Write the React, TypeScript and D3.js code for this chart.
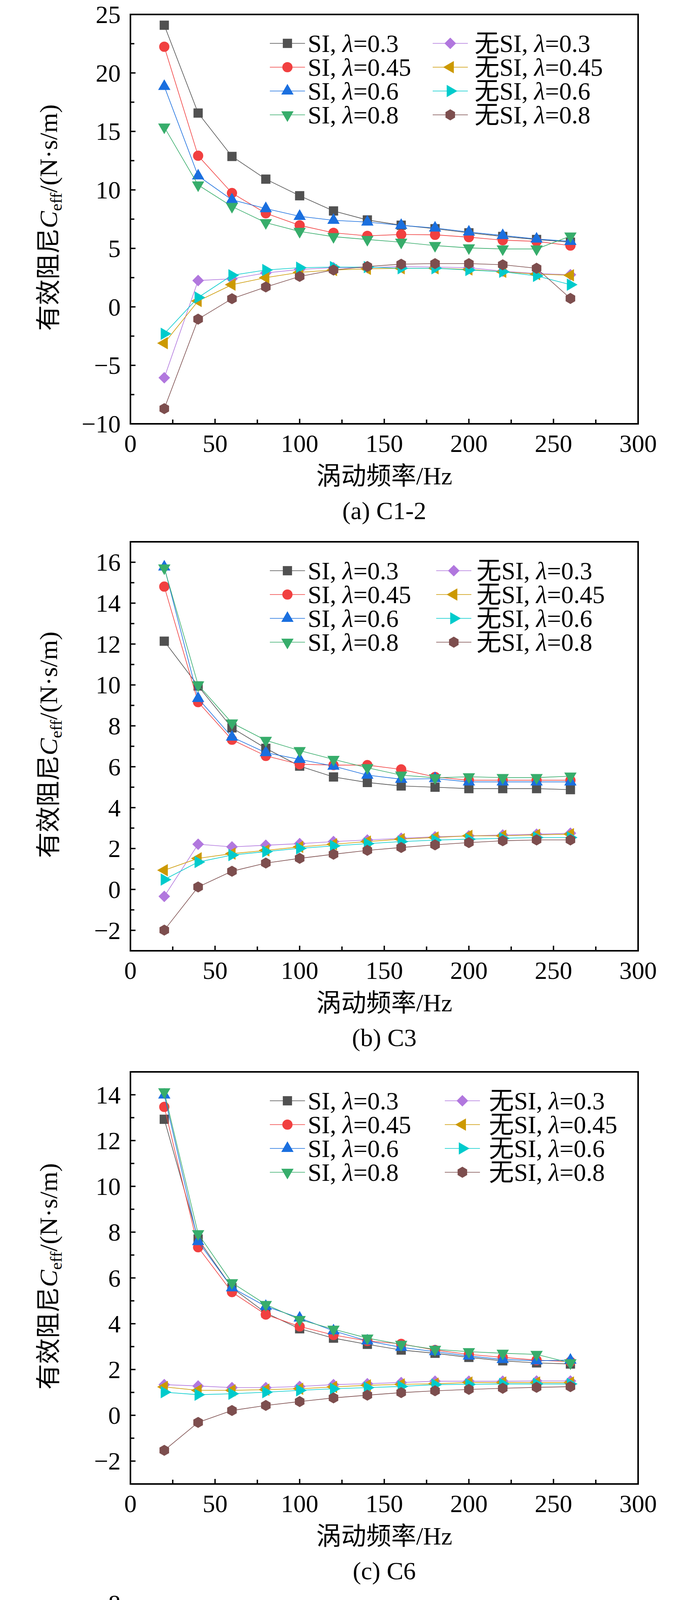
import * as d3 from 'd3'
import { useEffect, useRef } from 'react'

const W = 1772
const H = 5422
const LEFT = 334
const RIGHT = 1634
const FONT = "'Liberation Serif', 'Times New Roman', 'Noto Sans CJK SC', serif"
const FS = 64

const FREQ = [20, 40, 60, 80, 100, 120, 140, 160, 180, 200, 220, 240, 260]
const X_MAJOR = [0, 50, 100, 150, 200, 250, 300]
const X_MINOR = [25, 75, 125, 175, 225, 275]

const PREFIX = ['SI', 'SI', 'SI', 'SI', '无SI', '无SI', '无SI', '无SI']
const LAMBDA = ['0.3', '0.45', '0.6', '0.8', '0.3', '0.45', '0.6', '0.8']
const COLORS = ['#515151', '#F14040', '#1A6FDF', '#37AD6B', '#B177DE', '#CC9900', '#00CBCC', '#7D4E4E']

// (a) C1-2
const A_SI_03 = [24.08, 16.57, 12.86, 10.92, 9.5, 8.2, 7.43, 6.98, 6.68, 6.33, 6.02, 5.76, 5.53]
const A_SI_045 = [22.24, 12.92, 9.73, 8.0, 6.97, 6.33, 6.07, 6.19, 6.16, 5.96, 5.7, 5.6, 5.24]
const A_SI_06 = [18.85, 11.2, 9.15, 8.4, 7.74, 7.4, 7.25, 6.97, 6.74, 6.4, 6.1, 5.8, 5.6]
const A_SI_08 = [15.37, 10.42, 8.58, 7.2, 6.45, 6.0, 5.76, 5.53, 5.24, 5.04, 4.95, 4.95, 6.05]
const A_NO_03 = [-6.06, 2.25, 2.4, 2.9, 3.2, 3.35, 3.35, 3.45, 3.4, 3.35, 3.05, 2.85, 2.75]
const A_NO_045 = [-3.1, 0.5, 1.9, 2.5, 2.95, 3.15, 3.25, 3.3, 3.3, 3.2, 3.0, 2.8, 2.7]
const A_NO_06 = [-2.3, 0.8, 2.7, 3.15, 3.35, 3.4, 3.4, 3.3, 3.3, 3.15, 3.0, 2.65, 1.9]
const A_NO_08 = [-8.7, -1.05, 0.7, 1.7, 2.6, 3.15, 3.45, 3.65, 3.7, 3.7, 3.6, 3.3, 0.72]

// (b) C3
const B_SI_03 = [12.14, 9.95, 7.9, 6.9, 6.03, 5.5, 5.23, 5.06, 5.0, 4.93, 4.93, 4.93, 4.88]
const B_SI_045 = [14.81, 9.16, 7.32, 6.53, 6.12, 6.08, 6.08, 5.87, 5.5, 5.34, 5.34, 5.34, 5.34]
const B_SI_06 = [15.77, 9.34, 7.45, 6.69, 6.36, 6.03, 5.59, 5.39, 5.42, 5.26, 5.26, 5.26, 5.26]
const B_SI_08 = [15.72, 10.0, 8.14, 7.29, 6.79, 6.36, 5.95, 5.59, 5.46, 5.51, 5.47, 5.47, 5.54]
const B_NO_03 = [-0.34, 2.21, 2.08, 2.16, 2.24, 2.34, 2.42, 2.5, 2.57, 2.62, 2.66, 2.7, 2.75]
const B_NO_045 = [0.94, 1.52, 1.75, 1.91, 2.08, 2.21, 2.34, 2.46, 2.54, 2.62, 2.62, 2.67, 2.7]
const B_NO_06 = [0.48, 1.34, 1.68, 1.85, 2.01, 2.13, 2.24, 2.34, 2.41, 2.46, 2.5, 2.54, 2.54]
const B_NO_08 = [-1.99, 0.12, 0.89, 1.29, 1.52, 1.72, 1.91, 2.05, 2.18, 2.29, 2.38, 2.42, 2.42]

// (c) C6
const C_SI_03 = [12.93, 7.7, 5.57, 4.47, 3.78, 3.37, 3.1, 2.85, 2.71, 2.53, 2.38, 2.29, 2.24]
const C_SI_045 = [13.47, 7.34, 5.38, 4.4, 3.88, 3.51, 3.25, 3.12, 2.85, 2.66, 2.53, 2.41, 2.34]
const C_SI_06 = [13.99, 7.59, 5.57, 4.76, 4.25, 3.69, 3.25, 2.97, 2.78, 2.59, 2.44, 2.38, 2.41]
const C_SI_08 = [14.13, 7.93, 5.79, 4.84, 4.18, 3.76, 3.37, 3.1, 2.88, 2.78, 2.71, 2.66, 2.29]
const C_NO_03 = [1.34, 1.28, 1.21, 1.21, 1.26, 1.34, 1.38, 1.43, 1.49, 1.49, 1.49, 1.5, 1.5]
const C_NO_045 = [1.24, 1.09, 1.09, 1.12, 1.16, 1.24, 1.31, 1.35, 1.38, 1.43, 1.43, 1.43, 1.43]
const C_NO_06 = [1.01, 0.9, 0.94, 1.01, 1.09, 1.16, 1.21, 1.26, 1.34, 1.35, 1.37, 1.37, 1.37]
const C_NO_08 = [-1.53, -0.31, 0.21, 0.43, 0.6, 0.76, 0.88, 0.99, 1.07, 1.13, 1.18, 1.22, 1.25]

// (d) C9
const D_SI_03 = [6.0, 2.81, 1.8, 1.15, 0.77, 0.55, 0.46, 0.39, 0.35, 0.38, 0.43, 0.44, 0.46]
const D_SI_045 = [6.82, 3.05, 1.86, 1.27, 0.87, 0.77, 0.68, 0.53, 0.53, 0.39, 0.48, 0.82, 0.82]
const D_SI_06 = [7.08, 2.85, 2.01, 1.41, 1.06, 0.7, 0.57, 0.43, 0.5, 0.41, 0.43, 0.67, 0.8]
const D_SI_08 = [7.29, 2.98, 2.07, 1.34, 1.04, 0.78, 0.62, 0.56, 0.45, 0.56, 0.52, 0.74, 0.81]
const D_NO_03 = [0.79, 0.33, 0.05, -0.16, -0.22, -0.22, -0.18, -0.13, -0.09, 0.0, 0.14, 0.31, 0.55]
const D_NO_045 = [0.18, 0.07, -0.13, -0.12, -0.26, -0.22, -0.24, -0.24, -0.18, -0.2, 0.08, 0.56, 0.12]
const D_NO_06 = [-0.02, 0.14, -0.16, -0.28, -0.26, -0.35, -0.24, -0.27, -0.22, -0.18, -0.06, 0.4, -0.17]
const D_NO_08 = [-1.21, -0.54, -0.54, -0.62, -0.55, -0.56, -0.44, -0.47, -0.33, -0.33, -0.19, 0.12, 0.41]

const PANELS = [
  {
    caption: '(a) C1-2', top: 37, bottom: 1085, domain: [-10, 25], major: 5, minor: 2.5,
    col2: 1153, col2Text: 1215,
    series: [A_SI_03, A_SI_045, A_SI_06, A_SI_08, A_NO_03, A_NO_045, A_NO_06, A_NO_08],
  },
  {
    caption: '(b) C3', top: 1387, bottom: 2434, domain: [-3, 17], major: 2, minor: 1,
    col2: 1162, col2Text: 1220,
    series: [B_SI_03, B_SI_045, B_SI_06, B_SI_08, B_NO_03, B_NO_045, B_NO_06, B_NO_08],
  },
  {
    caption: '(c) C6', top: 2744, bottom: 3799, domain: [-3, 15], major: 2, minor: 1,
    col2: 1184, col2Text: 1252,
    series: [C_SI_03, C_SI_045, C_SI_06, C_SI_08, C_NO_03, C_NO_045, C_NO_06, C_NO_08],
  },
  {
    caption: '(d) C9', top: 4105, bottom: 5143, domain: [-2, 8], major: 1, minor: 0.5,
    col2: 1184, col2Text: 1245,
    series: [D_SI_03, D_SI_045, D_SI_06, D_SI_08, D_NO_03, D_NO_045, D_NO_06, D_NO_08],
  },
]

/* pointy-top hexagon, like Origin's */
const hexagon = {
  draw(ctx: any, size: number) {
    const r = Math.sqrt(size / ((3 * Math.sqrt(3)) / 2))
    for (let i = 0; i < 6; i++) {
      const a = (Math.PI / 3) * i - Math.PI / 2
      if (i === 0) ctx.moveTo(r * Math.cos(a), r * Math.sin(a))
      else ctx.lineTo(r * Math.cos(a), r * Math.sin(a))
    }
    ctx.closePath()
  },
}

// shape, area, rotation for each series
const MARKERS: [any, number, number][] = [
  [d3.symbolSquare, 560, 0],
  [d3.symbolCircle, 540, 0],
  [d3.symbolTriangle, 430, 0],
  [d3.symbolTriangle, 430, 180],
  [d3.symbolSquare, 440, 45],
  [d3.symbolTriangle, 430, -90],
  [d3.symbolTriangle, 430, 90],
  [hexagon, 520, 0],
]

type Piece = { text: string; italic?: boolean; size?: number; dy?: number; gap?: number }

/* lay pieces of text side by side, each its own <text>, measured in the DOM */
function textRow(parent: any, pieces: Piece[], x0: number, y0: number) {
  let cx = x0
  pieces.forEach((pc) => {
    cx += pc.gap ?? 0
    const t = parent.append('text').attr('x', cx).attr('y', y0 + (pc.dy ?? 0)).text(pc.text)
    if (pc.italic) t.attr('font-style', 'italic')
    if (pc.size) t.attr('font-size', pc.size)
    cx += (t.node() as SVGTextElement).getComputedTextLength()
  })
  return cx - x0
}

function drawPanel(svg: any, p: (typeof PANELS)[number]) {
  const x = d3.scaleLinear().domain([0, 300]).range([LEFT, RIGHT])
  const y = d3.scaleLinear().domain(p.domain).range([p.bottom, p.top])
  const g = svg.append('g').attr('font-family', FONT).attr('font-size', FS)

  /* data */
  const line = d3
    .line<number>()
    .x((_, i) => x(FREQ[i]))
    .y((d) => y(d))
  p.series.forEach((vals, k) => {
    const [type, size, rot] = MARKERS[k]
    g.append('path')
      .attr('d', line(vals))
      .attr('fill', 'none')
      .attr('stroke', COLORS[k])
      .attr('stroke-width', 1.6)
    g.append('g')
      .selectAll('path')
      .data(vals)
      .join('path')
      .attr('transform', (d: number, i: number) => `translate(${x(FREQ[i])},${y(d)}) rotate(${rot})`)
      .attr('d', d3.symbol().type(type).size(size)())
      .attr('fill', COLORS[k])
  })

  /* legend */
  PREFIX.forEach((pre, k) => {
    const col = k < 4 ? 0 : 1
    const row = k % 4
    const cy = p.top + 74 + row * 61
    const mx = col === 0 ? 736 : p.col2
    const tx = col === 0 ? 788 : p.col2Text
    const [type, size, rot] = MARKERS[k]
    g.append('line')
      .attr('x1', mx - 45).attr('x2', mx + 45)
      .attr('y1', cy).attr('y2', cy)
      .attr('stroke', COLORS[k]).attr('stroke-width', 1.6)
    g.append('path')
      .attr('transform', `translate(${mx},${cy}) rotate(${rot})`)
      .attr('d', d3.symbol().type(type).size(size)())
      .attr('fill', COLORS[k])
    textRow(g, [
      { text: `${pre},` },
      { text: 'λ', italic: true, gap: 16 },
      { text: `=${LAMBDA[k]}` },
    ], tx, cy + 22)
  })

  /* y axis ticks */
  const [lo, hi] = p.domain
  const yMajor = d3.range(Math.ceil(lo / p.major) * p.major, hi + 1e-9, p.major)
  const yMinor = d3
    .range(Math.ceil(lo / p.minor) * p.minor, hi + 1e-9, p.minor)
    .filter((v) => !yMajor.some((m) => Math.abs(m - v) < 1e-9))
  const fmt = d3.format('d')
  g.append('g')
    .selectAll('line')
    .data([...yMajor.map((v) => [v, 13]), ...yMinor.map((v) => [v, 10])])
    .join('line')
    .attr('x1', LEFT).attr('x2', (d: number[]) => LEFT + d[1])
    .attr('y1', (d: number[]) => y(d[0])).attr('y2', (d: number[]) => y(d[0]))
    .attr('stroke', '#000').attr('stroke-width', 3.5)
  g.append('g')
    .attr('text-anchor', 'end')
    .selectAll('text')
    .data(yMajor)
    .join('text')
    .attr('x', 309)
    .attr('y', (d: number) => y(d) + 22)
    .text((d: number) => fmt(d))

  /* x axis ticks */
  g.append('g')
    .selectAll('line')
    .data([...X_MAJOR.map((v) => [v, 13]), ...X_MINOR.map((v) => [v, 11])])
    .join('line')
    .attr('x1', (d: number[]) => x(d[0])).attr('x2', (d: number[]) => x(d[0]))
    .attr('y1', p.bottom).attr('y2', (d: number[]) => p.bottom - d[1])
    .attr('stroke', '#000').attr('stroke-width', 3.5)
  g.append('g')
    .attr('text-anchor', 'middle')
    .selectAll('text')
    .data(X_MAJOR)
    .join('text')
    .attr('x', (d: number) => x(d))
    .attr('y', p.bottom + 72)
    .text((d: number) => fmt(d))

  /* frame */
  g.append('rect')
    .attr('x', LEFT).attr('y', p.top)
    .attr('width', RIGHT - LEFT).attr('height', p.bottom - p.top)
    .attr('fill', 'none').attr('stroke', '#000').attr('stroke-width', 4)

  /* axis titles and caption */
  const cx = (LEFT + RIGHT) / 2
  g.append('text').attr('x', cx).attr('y', p.bottom + 155).attr('text-anchor', 'middle').text('涡动频率/Hz')
  g.append('text').attr('x', cx).attr('y', p.bottom + 244).attr('text-anchor', 'middle').text(p.caption)

  const yTitle = g.append('g').attr('transform', `translate(146,${(p.top + p.bottom) / 2 - 4}) rotate(-90)`)
  const inner = yTitle.append('g')
  const w = textRow(inner, [
    { text: '有效阻尼' },
    { text: 'C', italic: true },
    { text: 'eff', size: 42, dy: 12 },
    { text: '/(N·s/m)' },
  ], 0, 0)
  inner.attr('transform', `scale(${580 / w},1) translate(${-w / 2},0)`)
}

export default function App() {
  const ref = useRef<SVGSVGElement>(null)

  useEffect(() => {
    const svg = d3.select(ref.current)
    svg.selectAll('*').remove()
    svg.append('rect').attr('width', W).attr('height', H).attr('fill', '#fff')
    PANELS.forEach((p) => drawPanel(svg, p))
  }, [])

  return (
    <svg
      ref={ref}
      width={W}
      height={H}
      viewBox={`0 0 ${W} ${H}`}
      style={{ display: 'block', margin: '-8px 0 0 -8px' }}
    />
  )
}
